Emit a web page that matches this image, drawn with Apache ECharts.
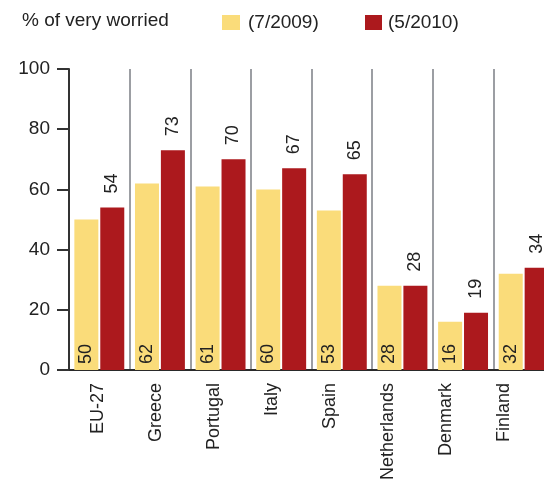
<!DOCTYPE html>
<html>
<head>
<meta charset="utf-8">
<script src="https://cdn.jsdelivr.net/npm/echarts@6/dist/echarts.min.js"></script>
<style>
  html, body { margin: 0; padding: 0; background: #fff; overflow: hidden; }
  /* the plot runs past the right edge of the window */
  #chart { width: 570px; height: 494px; }
</style>
</head>
<body>
<div id="chart"></div>
<script>
// Share of respondents "very worried", by country
const categories = ['EU-27', 'Greece', 'Portugal', 'Italy', 'Spain', 'Netherlands', 'Denmark', 'Finland'];
const wave2009 = [50, 62, 61, 60, 53, 28, 16, 32];
const wave2010 = [54, 73, 70, 67, 65, 28, 19, 34];
const seriesNames = ['(7/2009)', '(5/2010)'];
const yTicks = [0, 20, 40, 60, 80, 100];

const FONT = '"Liberation Sans", Arial, sans-serif';
const TEXT = '#222';
const YELLOW = '#FADC7A';
const RED = '#AC191D';

const chart = echarts.init(document.getElementById('chart'), null, { renderer: 'canvas' });

chart.setOption({
  animation: false,
  backgroundColor: '#fff',
  textStyle: { fontFamily: FONT },
  title: {
    text: '% of very worried',
    left: 17, top: 6,
    textStyle: { fontFamily: FONT, fontSize: 19, fontWeight: 'normal', color: TEXT }
  },
  legend: [
    {
      data: [seriesNames[0]], left: 217, top: 8,
      itemWidth: 18, itemHeight: 15, icon: 'rect',
      textStyle: { fontFamily: FONT, fontSize: 19, color: TEXT, padding: [0, 0, 0, 3] }
    },
    {
      data: [seriesNames[1]], left: 360, top: 8,
      itemWidth: 17, itemHeight: 15, icon: 'rect',
      textStyle: { fontFamily: FONT, fontSize: 19, color: TEXT, padding: [0, 0, 0, 1] }
    }
  ],
  grid: [
    { left: 69, top: 69, width: 485, bottom: 124, containLabel: false },
    // label row: slightly narrower spacing for the category names
    { left: 69, top: 69, width: 464, bottom: 124, containLabel: false }
  ],
  xAxis: [
    {
      type: 'category', gridIndex: 0, data: categories,
      axisLine: { show: true, lineStyle: { color: '#2a2a2a', width: 2 } },
      axisTick: { show: false },
      axisLabel: { show: false },
      splitLine: { show: true, interval: 0, lineStyle: { color: '#9c9ea3', width: 2 } }
    },
    {
      type: 'category', gridIndex: 1, data: categories,
      axisLine: { show: false }, axisTick: { show: false },
      splitLine: { show: false },
      axisLabel: {
        rotate: 90, margin: 13, interval: 0,
        fontFamily: FONT, fontSize: 18, color: TEXT
      }
    }
  ],
  yAxis: [
    {
      type: 'value', gridIndex: 0, min: 0, max: 100, interval: 20,
      axisLine: { show: true, lineStyle: { color: '#333', width: 2 } },
      axisTick: { show: true, length: 12, lineStyle: { color: '#333', width: 2 } },
      axisLabel: {
        margin: 19, fontFamily: FONT, fontSize: 19, color: TEXT,
        formatter: v => (yTicks.includes(v) ? String(v) : '')
      },
      splitLine: { show: false }
    },
    { type: 'value', gridIndex: 1, min: 0, max: 100, show: false }
  ],
  series: [
    {
      name: seriesNames[0], type: 'bar', data: wave2009,
      xAxisIndex: 0, yAxisIndex: 0,
      barWidth: 24, barGap: '8%',
      itemStyle: { color: YELLOW },
      label: {
        show: true, position: 'insideBottom', distance: 6, rotate: 90,
        align: 'left', verticalAlign: 'middle',
        fontFamily: FONT, fontSize: 18, color: TEXT
      }
    },
    {
      name: seriesNames[1], type: 'bar', data: wave2010,
      xAxisIndex: 0, yAxisIndex: 0,
      barWidth: 24, barGap: '8%',
      itemStyle: { color: RED },
      label: {
        show: true, position: 'top', distance: 14, rotate: 90,
        align: 'left', verticalAlign: 'middle',
        fontFamily: FONT, fontSize: 18, color: TEXT
      }
    }
  ]
});
</script>
</body>
</html>
